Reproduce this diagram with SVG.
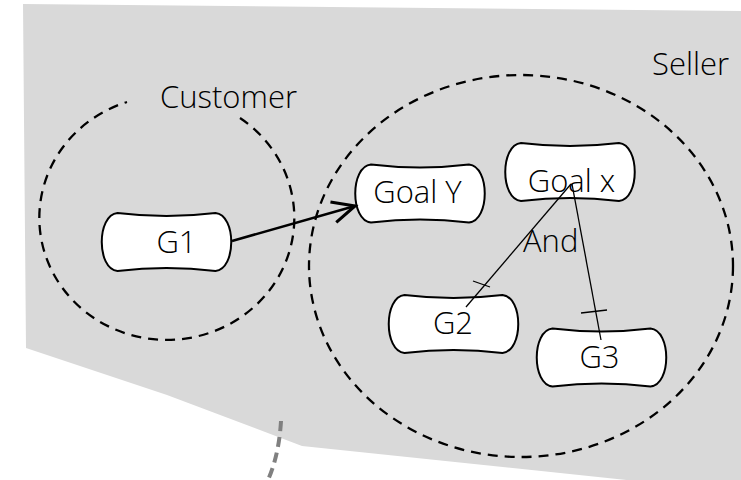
<svg xmlns="http://www.w3.org/2000/svg" xmlns:xlink="http://www.w3.org/1999/xlink" width="741" height="480" viewBox="0 0 741 480">
  <style>
    .lbl { font-family: "Open Sans", "Liberation Sans", sans-serif; font-size: 31px; font-weight: 300; fill: #000; }
    .boundary { fill: none; stroke: #000; stroke-width: 2.3; stroke-dasharray: 10 7; }
    .goal { fill: #fff; stroke: #000; stroke-width: 2; }
    .link { fill: none; stroke: #000; stroke-width: 1.3; }
    .dep { fill: none; stroke: #000; stroke-width: 2.5; }
  </style>
  <defs>
    <!-- goal shape: concave top/bottom, bulging sides, centred on 0,0 -->
    <path id="goalShape" d="M -49,-29 Q 0,-23 49,-29 C 70,-27 70,27 49,29 Q 0,23 -49,29 C -70,27 -70,-27 -49,-29 Z"/>
    <marker id="openArrow" markerUnits="userSpaceOnUse" markerWidth="30" markerHeight="30" viewBox="-20 -12 24 24" refX="0" refY="0" orient="auto">
      <path d="M -18,-8.5 L 0,0 L -18,8.5" fill="none" stroke="#000" stroke-width="2.5"/>
    </marker>
  </defs>

  <!-- background region -->
  <polygon points="23,4 741,11 741,492 302,446 167,395 26,348" fill="#d9d9d9"/>

  <!-- grey dashed boundary fragment -->
  <path d="M 281,421 Q 279,455 268,480" fill="none" stroke="#808080" stroke-width="4" stroke-dasharray="10 6"/>

  <!-- actor boundaries -->
  <g id="customer">
    <path class="boundary" d="M 240,118 A 127.5 122 0 1 1 127,102"/>
    <text class="lbl" x="160" y="108">Customer</text>
  </g>
  <g id="seller">
    <ellipse class="boundary" cx="521" cy="266" rx="212" ry="191"/>
    <text class="lbl" x="652" y="75">Seller</text>
  </g>

  <!-- goals -->
  <g id="g1">
    <use xlink:href="#goalShape" class="goal" transform="translate(166.5,242)"/>
    <text class="lbl" x="176.5" y="253" text-anchor="middle">G1</text>
  </g>
  <g id="goal-y">
    <use xlink:href="#goalShape" class="goal" transform="translate(420,193.5)"/>
    <text class="lbl" x="417.5" y="203" text-anchor="middle">Goal Y</text>
  </g>
  <g id="goal-x">
    <use xlink:href="#goalShape" class="goal" transform="translate(570,172)"/>
    <text class="lbl" x="571.5" y="192" text-anchor="middle">Goal x</text>
  </g>
  <g id="g2">
    <use xlink:href="#goalShape" class="goal" transform="translate(453.5,324)"/>
    <text class="lbl" x="453" y="334" text-anchor="middle">G2</text>
  </g>
  <g id="g3">
    <use xlink:href="#goalShape" class="goal" transform="translate(601.5,357.5)"/>
    <text class="lbl" x="599.5" y="368" text-anchor="middle">G3</text>
  </g>

  <!-- connectors -->
  <g id="connectors">
    <line class="dep" x1="232" y1="241" x2="355" y2="206" marker-end="url(#openArrow)"/>
    <line class="link" x1="571" y1="184" x2="466" y2="307"/>
    <line class="link" x1="572" y1="184" x2="601" y2="340"/>
    <line class="link" x1="473" y1="281" x2="490" y2="287"/>
    <line class="link" x1="581" y1="313" x2="607" y2="310"/>
    <text class="lbl" x="523" y="252">And</text>
  </g>
</svg>
